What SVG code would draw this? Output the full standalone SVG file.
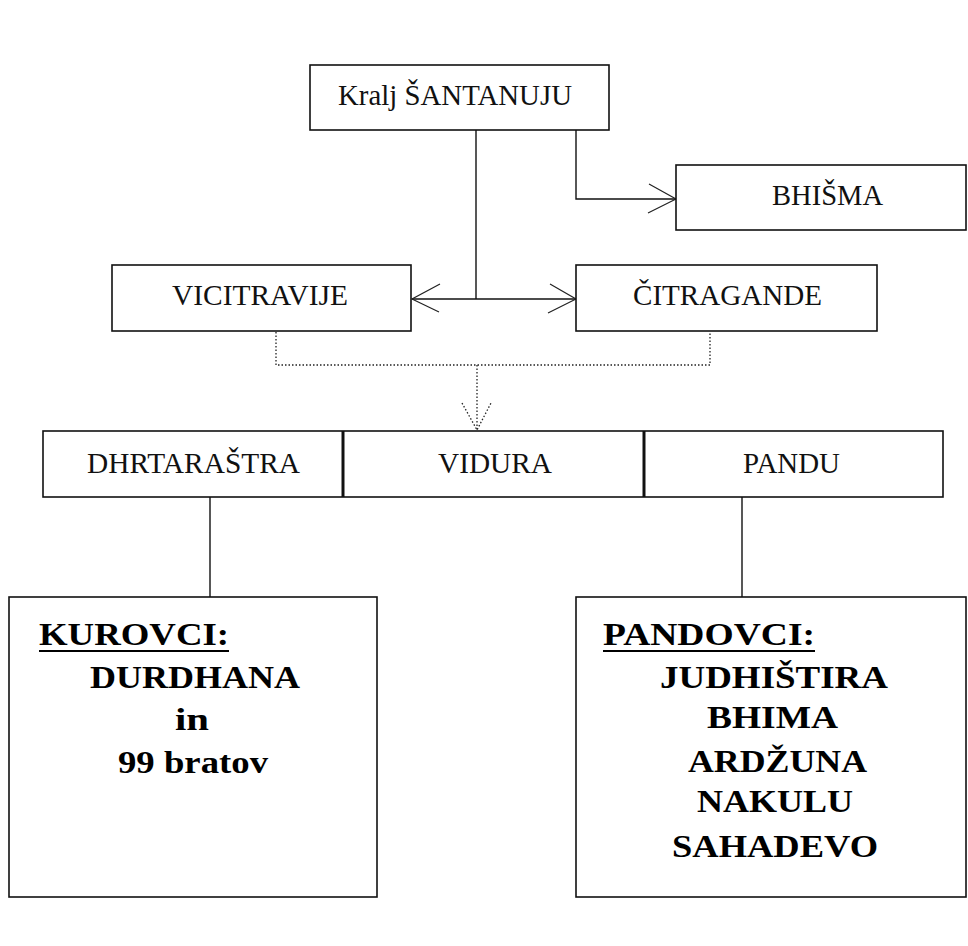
<svg xmlns="http://www.w3.org/2000/svg" width="968" height="946" viewBox="0 0 968 946">
<style>
.box{fill:#fff;stroke:#111;stroke-width:1.6}
.div{stroke:#111;stroke-width:3}
.lbl{font-family:"Liberation Serif","Times New Roman",serif;font-size:29px;fill:#111}
.big{font-family:"Liberation Serif","Times New Roman",serif;font-size:32px;font-weight:bold;fill:#000}
.ln{fill:none;stroke:#111;stroke-width:1.4}
.arm{fill:none;stroke:#222;stroke-width:1.2}
.dot{fill:none;stroke:#222;stroke-width:1.3;stroke-dasharray:1.5 2}
.ul{stroke:#000;stroke-width:2.2}
</style>
<rect width="968" height="946" fill="#fff"/>
<g id="connectors">
<line class="ln" x1="476" y1="130" x2="476" y2="299"/>
<polyline class="ln" points="576,130 576,199 676,199"/>
<path class="arm" d="M649,184 L676,199 L648,213"/>
<line class="ln" x1="412" y1="299" x2="576" y2="299"/>
<path class="arm" d="M440,284 L412,299 L439,312"/>
<path class="arm" d="M550,284 L576,299 L548,313"/>
<polyline class="dot" points="276,332 276,365 710,365 710,332"/>
<line class="dot" x1="477" y1="365" x2="477" y2="430"/>
<path class="dot" d="M462,403 L477,430 L491,403"/>
<line class="ln" x1="210" y1="497" x2="210" y2="597"/>
<line class="ln" x1="742" y1="497" x2="742" y2="597"/>
</g>
<g id="kralj">
<rect class="box" x="310" y="65" width="299" height="65"/>
<text class="lbl" x="338" y="105" textLength="234" lengthAdjust="spacingAndGlyphs">Kralj ŠANTANUJU</text>
</g>
<g id="bhisma">
<rect class="box" x="676" y="165" width="290" height="65"/>
<text class="lbl" x="772" y="205" textLength="111" lengthAdjust="spacingAndGlyphs">BHIŠMA</text>
</g>
<g id="vicitravije">
<rect class="box" x="112" y="265" width="299" height="66"/>
<text class="lbl" x="172" y="305" textLength="176" lengthAdjust="spacingAndGlyphs">VICITRAVIJE</text>
</g>
<g id="citragande">
<rect class="box" x="576" y="265" width="301" height="66"/>
<text class="lbl" x="633" y="305" textLength="189" lengthAdjust="spacingAndGlyphs">ČITRAGANDE</text>
</g>
<g id="row">
<rect class="box" x="43" y="431" width="900" height="66"/>
<line class="div" x1="343" y1="431" x2="343" y2="497"/>
<line class="div" x1="644" y1="431" x2="644" y2="497"/>
</g>
<g id="dhrtarastra">
<text class="lbl" x="87" y="473" textLength="213" lengthAdjust="spacingAndGlyphs">DHRTARAŠTRA</text>
</g>
<g id="vidura">
<text class="lbl" x="438" y="473" textLength="114" lengthAdjust="spacingAndGlyphs">VIDURA</text>
</g>
<g id="pandu">
<text class="lbl" x="743" y="473" textLength="97" lengthAdjust="spacingAndGlyphs">PANDU</text>
</g>
<g id="kurovci">
<rect class="box" x="9" y="597" width="368" height="300"/>
<text class="big" x="39" y="645" textLength="190" lengthAdjust="spacingAndGlyphs">KUROVCI:</text>
<line class="ul" x1="39" y1="651" x2="229" y2="651"/>
<text class="big" x="90" y="688" textLength="210" lengthAdjust="spacingAndGlyphs">DURDHANA</text>
<text class="big" x="175" y="730" textLength="34" lengthAdjust="spacingAndGlyphs">in</text>
<text class="big" x="118" y="773" textLength="150" lengthAdjust="spacingAndGlyphs">99 bratov</text>
</g>
<g id="pandovci">
<rect class="box" x="576" y="597" width="390" height="300"/>
<text class="big" x="603" y="645" textLength="212" lengthAdjust="spacingAndGlyphs">PANDOVCI:</text>
<line class="ul" x1="603" y1="651" x2="815" y2="651"/>
<text class="big" x="660" y="688" textLength="228" lengthAdjust="spacingAndGlyphs">JUDHIŠTIRA</text>
<text class="big" x="707" y="728" textLength="131" lengthAdjust="spacingAndGlyphs">BHIMA</text>
<text class="big" x="688" y="772" textLength="179" lengthAdjust="spacingAndGlyphs">ARDŽUNA</text>
<text class="big" x="697" y="812" textLength="156" lengthAdjust="spacingAndGlyphs">NAKULU</text>
<text class="big" x="672" y="857" textLength="206" lengthAdjust="spacingAndGlyphs">SAHADEVO</text>
</g>
</svg>
